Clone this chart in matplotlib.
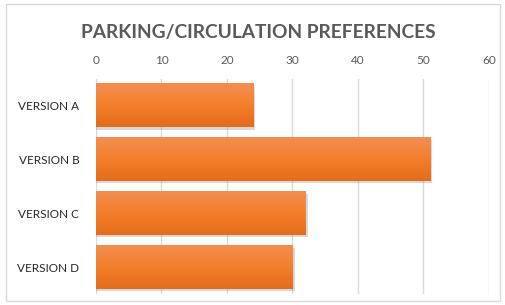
import numpy as np
import matplotlib.pyplot as plt
from matplotlib.colors import LinearSegmentedColormap
from matplotlib.patches import Rectangle

# data
versions = ['VERSION A', 'VERSION B', 'VERSION C', 'VERSION D']
votes = [24, 51, 32, 30]
x_ticks = [0, 10, 20, 30, 40, 50, 60]

plt.rcParams['font.family'] = ['Lato', 'DejaVu Sans']

fig = plt.figure(figsize=(5.06, 3.05), dpi=100)
fig.patch.set_facecolor('white')
# chart border
fig.add_artist(Rectangle((0.012, 0.012), 0.976, 0.976, transform=fig.transFigure,
                         fill=False, edgecolor='#D9D9D9', linewidth=1))

ax = fig.add_axes([0.1897, 0.036, 0.7767, 0.705])

# orange gradient, lighter at the top of each bar
cmap = LinearSegmentedColormap.from_list('orange', ['#F28E52', '#F47F2A', '#E46C1C'])
grad = np.linspace(0, 1, 64).reshape(-1, 1)
h = 0.8
for i, v in enumerate(votes):
    # shadow
    ax.add_patch(Rectangle((0, i - h / 2 + 0.04), v + 0.35, h, facecolor='#808080',
                           alpha=0.3, edgecolor='none', zorder=2))
    ax.imshow(grad, cmap=cmap, aspect='auto', extent=(0, v, i + h / 2, i - h / 2),
              zorder=3, interpolation='bilinear')

ax.set_xlim(0, 60)
ax.set_ylim(len(versions) - 0.5, -0.5)
ax.set_xticks(x_ticks)
ax.set_yticks(range(len(versions)))
ax.set_yticklabels(versions)
ax.xaxis.tick_top()
ax.tick_params(axis='x', length=0, labelsize=8.5, labelcolor='#595959', pad=9)
ax.tick_params(axis='y', length=0, labelsize=8.5, labelcolor='#262626', pad=12)
ax.grid(axis='x', color='#D9D9D9', linewidth=1, zorder=0)
ax.set_axisbelow(True)
for s in ax.spines.values():
    s.set_visible(False)

fig.text(0.51, 0.893, 'PARKING/CIRCULATION PREFERENCES', ha='center', va='center',
         fontsize=13.8, fontweight='bold', color='#595959')

fig.savefig('out.png', dpi=100)
